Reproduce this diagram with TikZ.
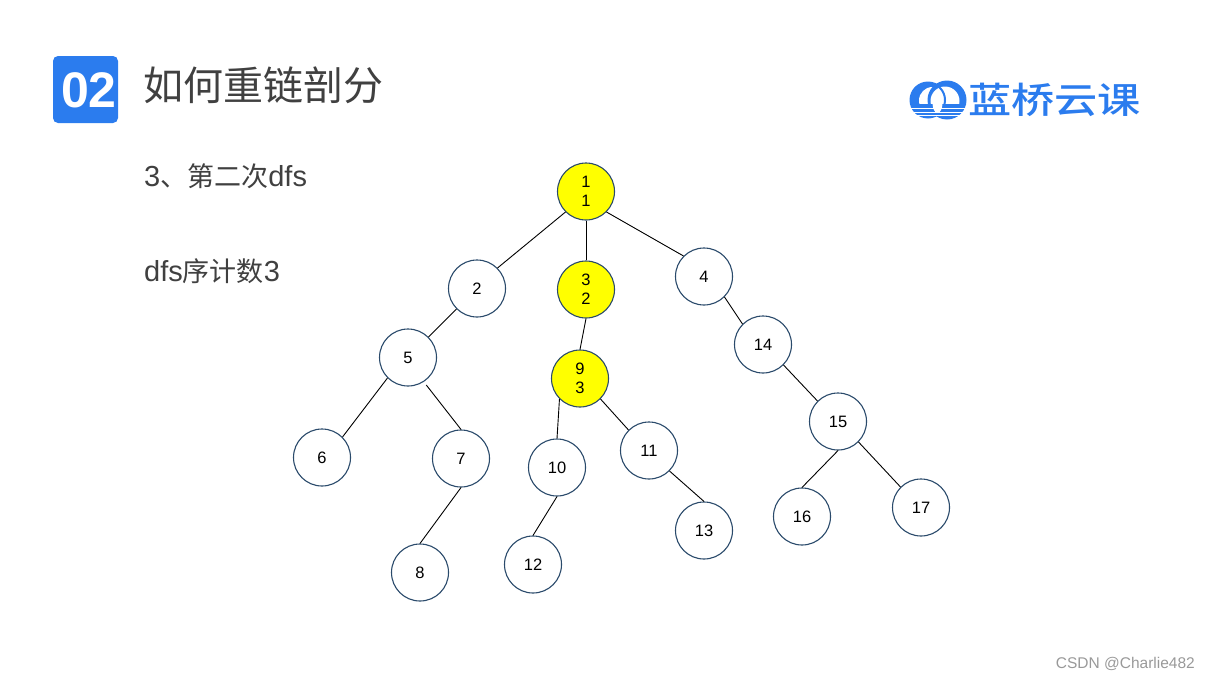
\documentclass[tikz,border=0pt]{standalone}
\usepackage{fontspec}
\setmainfont{Liberation Sans}
\newfontfamily\cjk{Noto Sans CJK SC}
\newfontfamily\cjkwide[FakeStretch=1.2]{Noto Sans CJK SC Medium}
\usetikzlibrary{positioning}
\definecolor{brand}{HTML}{2B7CEE}
\definecolor{ink}{HTML}{404040}
\definecolor{rim}{HTML}{2A4A6B}
\definecolor{heavy}{HTML}{FFFF00}

\begin{document}
\begin{tikzpicture}[
  x=1pt, y=-1pt,
  vtx/.style={draw=rim, circle, line width=1.1pt, fill=white, minimum size=57pt, inner sep=0pt,
              align=center, font=\fontsize{16.5}{19}\selectfont, text=black},
  hvy/.style={vtx, fill=heavy},
  edge/.style={draw=black, line width=0.9pt},
  body/.style={anchor=west, inner sep=0pt, text=ink, font=\fontsize{29}{32}\selectfont},
]
  \useasboundingbox (0, 0) rectangle (1209, 680);

  % Header
  \fill[brand, rounded corners=5pt] (53, 56) rectangle (118, 123);
  \node[inner sep=0pt, text=white, font=\fontsize{50}{50}\bfseries] (badge) at (89, 90) {02};
  \node[body, font=\fontsize{40}{44}\cjk] (title) at (143, 85) {如何重链剖分};
  \node[body] (step3) at (144, 176) {3{\cjk\fontsize{27}{32}\selectfont 、第二次}dfs};
  \node[body] (count) at (144, 271) {dfs{\cjk\fontsize{27}{32}\selectfont 序计数}3};

  % Logo
  \begin{scope}
    \clip (905, 78) rectangle (972, 104);
    \fill[brand] (928, 100) circle (18.5);
    \fill[white] (932.5, 100.5) circle (13.5);
    \fill[brand] (947, 100) circle (19.5);
    \fill[white] (945, 101) circle (14.5);
    \draw[brand, line width=2pt] (928, 100) circle (17);
  \end{scope}
  \begin{scope}
    \clip (905, 104.5) rectangle (972, 120);
    \fill[brand] (928, 100) circle (18.5);
    \fill[brand] (947, 100) circle (19.5);
    \fill[white] (937.5, 103) ellipse (5 and 10);
    \draw[white, line width=1pt] (905, 108.5) -- (972, 108.5);
    \draw[white, line width=1pt] (905, 112) -- (972, 112);
    \draw[white, line width=0.8pt] (905, 115.5) -- (972, 115.5);
  \end{scope}
  \node[inner sep=0pt, anchor=west, text=brand, font=\fontsize{36}{36}\cjkwide] (logo) at (968, 100) {蓝桥云课};

  % Tree
  \begin{scope}[yshift=-0.5pt]
  \node[hvy] (n1) at (586, 191) {1\\1};
  \node[hvy] (n3) at (586, 289) {3\\2};
  \node[hvy] (n9) at (580, 378) {9\\3};
  \node[vtx] (n2) at (477, 288) {2};
  \node[vtx] (n4) at (704, 276) {4};
  \node[vtx] (n5) at (408, 357) {5};
  \node[vtx] (n6) at (322, 457) {6};
  \node[vtx] (n7) at (461, 458) {7};
  \node[vtx] (n8) at (420, 572) {8};
  \node[vtx] (n10) at (557, 467) {10};
  \node[vtx] (n11) at (649, 450) {11};
  \node[vtx] (n12) at (533, 564) {12};
  \node[vtx] (n13) at (704, 530) {13};
  \node[vtx] (n14) at (763, 344) {14};
  \node[vtx] (n15) at (838, 421) {15};
  \node[vtx] (n16) at (802, 516) {16};
  \node[vtx] (n17) at (921, 507) {17};

  \draw[edge] (n1.south west) -- (n2.north east);
  \draw[edge] (n1.south) -- (n3.north);
  \draw[edge] (n1.south east) -- (n4.north west);
  \draw[edge] (n2.south west) -- (n5.north east);
  \draw[edge] (n5.south west) -- (n6.north east);
  \draw[edge, shorten <=4pt] (n5.-57) -- (n7.north);
  \draw[edge] (n7.south) -- (n8.north);
  \draw[edge] (n3.south) -- (n9.north);
  \draw[edge] (n9.south west) -- (n10.north);
  \draw[edge] (n9.south east) -- (n11.north west);
  \draw[edge] (n10.south) -- (n12.north);
  \draw[edge] (n11.south east) -- (n13.north);
  \draw[edge] (n4.south east) -- (n14.north west);
  \draw[edge] (n14.south east) -- (n15.north west);
  \draw[edge] (n15.south) -- (n16.north);
  \draw[edge] (n15.south east) -- (n17.north west);
  \end{scope}

  % Watermark
  \node[inner sep=0pt, anchor=east, text=black!40, font=\fontsize{15.5}{16}\selectfont] (mark) at (1195, 664) {CSDN @Charlie482};
\end{tikzpicture}
\end{document}
